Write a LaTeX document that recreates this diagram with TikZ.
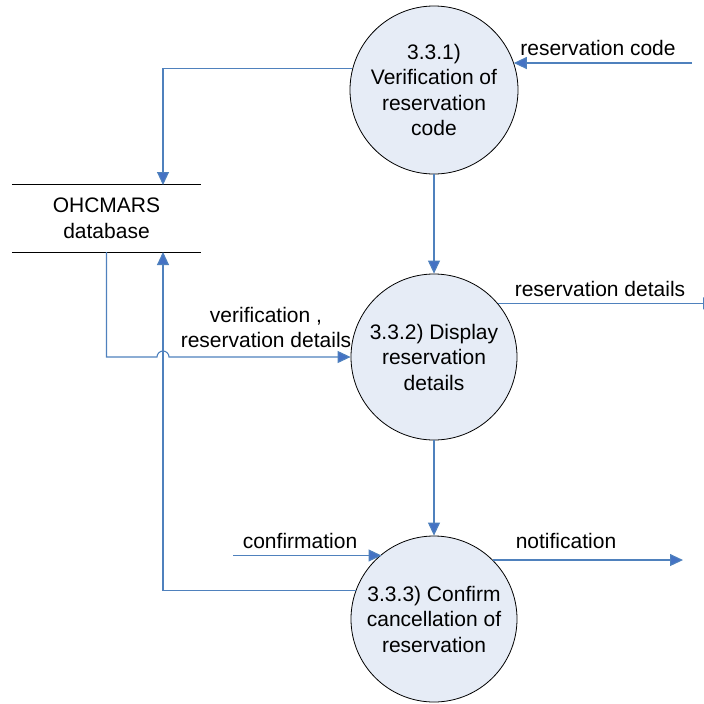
\documentclass[tikz,border=0pt]{standalone}
\usepackage{fontspec}
\setmainfont{Liberation Sans}
\usetikzlibrary{arrows.meta}
\definecolor{flowblue}{HTML}{4F81BD}
\definecolor{tipblue}{HTML}{4472C4}
\definecolor{procfill}{HTML}{E6ECF6}
\begin{document}
\begin{tikzpicture}[x=1pt,y=-1pt,
  every node/.style={font=\fontsize{21}{25.5}\selectfont},
  proc/.style={circle, draw=black, line width=0.8pt, fill=procfill, minimum size=166pt, inner sep=0pt, align=center},
  flow/.style={draw=flowblue, line width=1.1pt, -{Triangle[length=13pt,width=12pt,fill=tipblue]}},
  lbl/.style={align=center, inner sep=0pt},
  dbline/.style={draw=black, line width=1pt}]
\useasboundingbox (0,0) rectangle (704,704);

\node[proc, minimum size=168pt] (c1) at (434,90) {3.3.1)\\Verification of\\reservation\\code};
\node[proc] (c2) at (434,357) {3.3.2) Display\\reservation\\details};
\node[proc] (c3) at (434,619) {3.3.3) Confirm\\cancellation of\\reservation};

\node[lbl, minimum width=189pt, minimum height=67pt] (db) at (106.5,218.5) {OHCMARS\\database};
\draw[dbline] (db.north west) -- (db.north east);
\draw[dbline] (db.south west) -- (db.south east);

\coordinate (dbin) at (163,185);
\coordinate (dbret) at (163,252);
\coordinate (rcin) at (692,63);
\coordinate (rdout) at (716,304);
\coordinate (cfin) at (233,555.5);
\coordinate (ntout) at (683,561);
\coordinate (jmp) at (157,357);

\draw[flow] (c1.165) -| (dbin);
\draw[flow] (rcin) -- (rcin -| c1.19);
\draw[flow] (c1) -- (c2);
\draw[flow] (db.south) |- (jmp) arc[start angle=180, end angle=0, radius=6pt] -- (c2.west);
\draw[flow] (c2.40) -- (c2.40 -| rdout);
\draw[flow] (c2) -- (c3);
\draw[flow] (cfin) -- (cfin -| c3.129);
\draw[flow] (c3.45) -- (c3.45 -| ntout);
\draw[flow] (c3.160) -| (dbret);

\node[lbl] (lv) at (266,327.5) {verification ,\\reservation details};
\node[lbl] (lrc) at (598,48) {reservation code};
\node[lbl] (lrd) at (600,289) {reservation details};
\node[lbl] (lcf) at (300,541) {confirmation};
\node[lbl] (lnt) at (566,541) {notification};
\end{tikzpicture}
\end{document}
